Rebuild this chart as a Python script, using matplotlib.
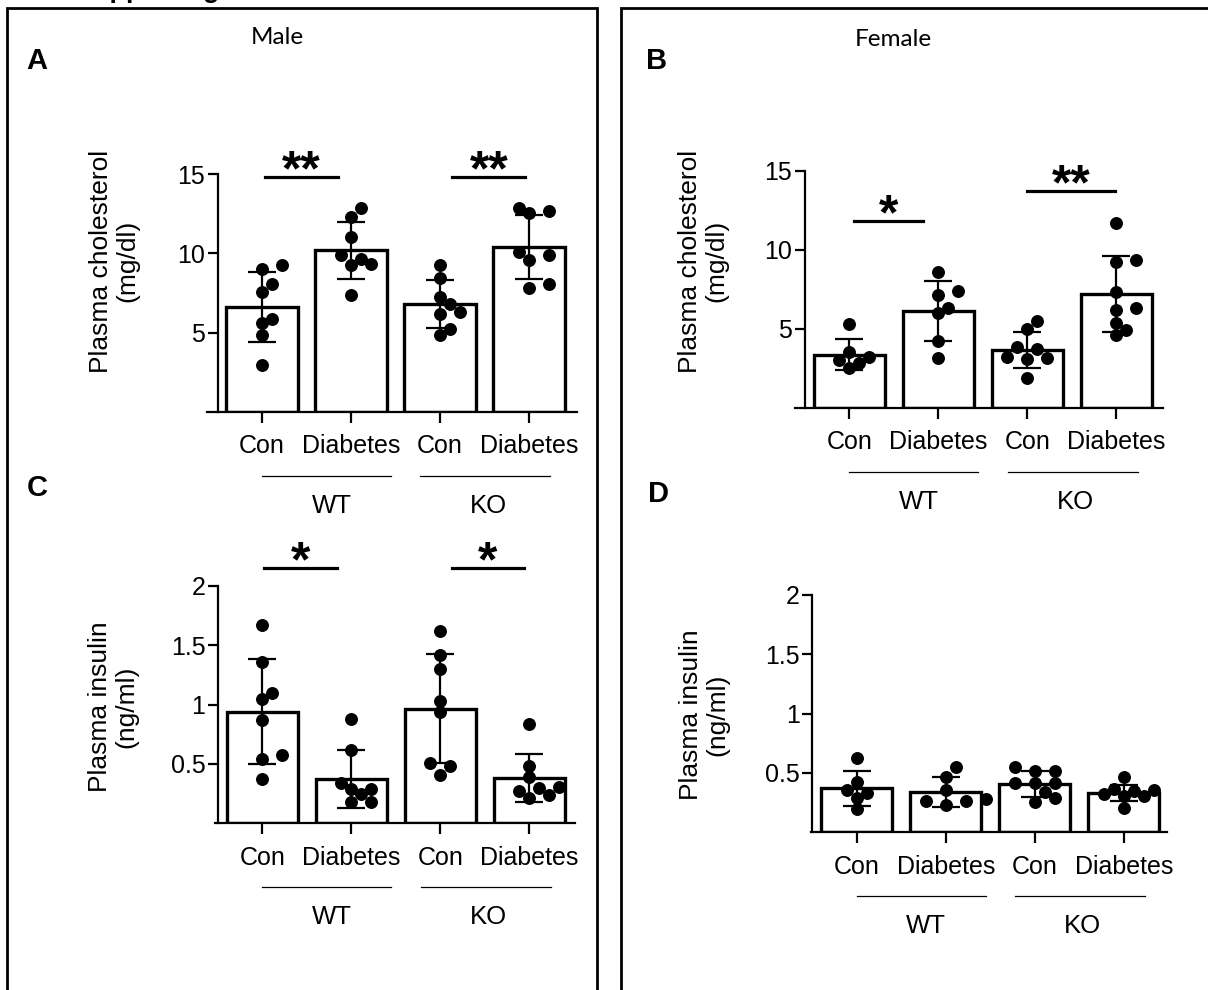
import numpy as np
import matplotlib.pyplot as plt
from matplotlib.patches import Rectangle

plt.rcParams['font.family'] = ['Liberation Sans', 'DejaVu Sans']

W, H = 1208, 990

groups = ['Con', 'Diabetes', 'Con', 'Diabetes']
genotypes = ['WT', 'KO']

# A - male plasma cholesterol (mg/dl)
chol_m_mean = [6.6, 10.2, 6.8, 10.4]
chol_m_sd = [2.2, 1.8, 1.5, 2.0]
chol_m_pts = [
    [9.0, 9.27, 8.06, 7.56, 5.87, 5.58, 4.88, 2.94],
    [12.83, 12.29, 11.0, 9.67, 9.88, 9.29, 9.33, 7.38],
    [9.29, 8.46, 7.25, 6.79, 6.33, 6.17, 5.21, 4.88],
    [12.67, 12.54, 12.88, 10.08, 9.88, 9.6, 7.83, 8.08],
]

# B - female plasma cholesterol (mg/dl)
chol_f_mean = [3.35, 6.1, 3.65, 7.2]
chol_f_sd = [0.98, 1.9, 1.13, 2.4]
chol_f_pts = [
    [5.28, 3.19, 3.02, 3.5, 2.85, 2.49],
    [8.61, 7.13, 7.41, 5.97, 6.33, 4.24, 3.12],
    [5.49, 4.96, 3.82, 3.7, 3.23, 3.08, 3.12, 1.86],
    [11.67, 9.35, 9.22, 7.3, 6.18, 6.33, 5.34, 4.92, 4.6],
]

# C - male plasma insulin (ng/ml)
ins_m_mean = [0.94, 0.375, 0.965, 0.38]
ins_m_sd = [0.44, 0.246, 0.46, 0.203]
ins_m_pts = [
    [1.669, 1.36, 1.044, 1.094, 0.87, 0.575, 0.541, 0.37],
    [0.878, 0.617, 0.337, 0.289, 0.247, 0.289, 0.182, 0.182],
    [1.619, 1.417, 1.296, 1.032, 0.934, 0.51, 0.482, 0.407],
    [0.836, 0.482, 0.387, 0.303, 0.3, 0.21, 0.238, 0.274],
]

# D - female plasma insulin (ng/ml)
ins_f_mean = [0.37, 0.34, 0.41, 0.33]
ins_f_sd = [0.145, 0.124, 0.11, 0.067]
ins_f_pts = [
    [0.623, 0.356, 0.426, 0.292, 0.334, 0.196],
    [0.553, 0.463, 0.356, 0.23, 0.278, 0.266, 0.266],
    [0.519, 0.548, 0.519, 0.413, 0.413, 0.413, 0.342, 0.258, 0.286],
    [0.463, 0.365, 0.32, 0.356, 0.348, 0.308, 0.308, 0.207],
]

# significance: (x start, x end, y, label)
sig_a = [(0.03, 0.85, 14.8, '**'), (2.14, 2.96, 14.8, '**')]
sig_b = [(0.05, 0.83, 11.8, '*'), (2.0, 2.98, 13.7, '**')]
sig_c = [(0.02, 0.84, 2.15, '*'), (2.13, 2.94, 2.15, '*')]
sig_d = []

STEP = 89.0  # px between bars


def swarm(ax, xc, vals, d=11.0, step=10.0):
    # spread dots sideways (in pixels) so they don't sit on top of each other
    tr = ax.transData
    inv = tr.inverted()
    x0 = tr.transform((xc, 0))[0]
    cands = [0]
    for j in range(1, 20):
        cands += [j, -j]
    placed = []
    xs = np.zeros(len(vals))
    for i in np.argsort(vals):
        py = tr.transform((xc, vals[i]))[1]
        for c in cands:
            px = x0 + c * step
            if all((px - qx) ** 2 + (py - qy) ** 2 >= d * d for qx, qy in placed):
                break
        placed.append((px, py))
        xs[i] = inv.transform((px, py))[0]
    return xs


def panel(fig, tick0, y0, ytop, xlim, ymax, means, sds, pts, yticks, ytl, sig):
    left = tick0 + xlim[0] * STEP
    width = (xlim[1] - xlim[0]) * STEP
    ax = fig.add_axes([left / W, 1 - y0 / H, width / W, (y0 - ytop) / H])
    ax.set_xlim(*xlim)
    ax.set_ylim(0, ymax)
    x = np.arange(len(groups))
    ax.bar(x, means, width=0.8, facecolor='white', edgecolor='black',
           linewidth=2.4, zorder=1)
    ax.errorbar(x, means, yerr=sds, fmt='none', ecolor='black',
                elinewidth=1.6, capsize=10, capthick=1.6, zorder=2)
    for i, v in enumerate(pts):
        xs = swarm(ax, i, v)
        ax.plot(xs, v, 'o', color='black', ms=8.3, zorder=3, clip_on=False)

    for s in ['top', 'right']:
        ax.spines[s].set_visible(False)
    ax.spines['left'].set_position(('data', -0.5))
    for s in ['left', 'bottom']:
        ax.spines[s].set_linewidth(1.6)
    ax.set_xticks(x)
    ax.set_xticklabels(groups)
    ax.set_yticks(yticks)
    ax.set_yticklabels(ytl)
    ax.tick_params(axis='x', length=8, width=1.6, pad=8, labelsize=18)
    ax.tick_params(axis='y', length=7, width=1.6, pad=2, labelsize=18)
    ax.patch.set_visible(False)

    # significance lines + stars
    for xa, xb, yy, lab in sig:
        ax.plot([xa, xb], [yy, yy], color='black', lw=2.3, clip_on=False)
        ax.annotate(lab, xy=((xa + xb) / 2, yy), xytext=(0, -6),
                    textcoords='offset points', ha='center', va='baseline',
                    fontsize=36, fontweight='bold', annotation_clip=False)

    # genotype lines under tick labels
    hpx = y0 - ytop
    tx = ax.get_xaxis_transform()
    ax.plot([0, 1.45], [-64 / hpx] * 2, color='black', lw=0.9,
            transform=tx, clip_on=False)
    ax.plot([1.78, 3.24], [-64 / hpx] * 2, color='black', lw=0.9,
            transform=tx, clip_on=False)
    ax.text(0.78, -94 / hpx, genotypes[0], transform=tx, ha='center',
            va='center', fontsize=18.5)
    ax.text(2.54, -94 / hpx, genotypes[1], transform=tx, ha='center',
            va='center', fontsize=18.5)
    return ax


fig = plt.figure(figsize=(W / 100, H / 100), dpi=100)

chol_ticks = [5, 10, 15]
chol_tl = ['5', '10', '15']
ins_ticks = [0.5, 1, 1.5, 2]
ins_tl = ['0.5', '1', '1.5', '2']

panel(fig, 262, 412, 174, (-0.62, 3.54), 15, chol_m_mean, chol_m_sd,
      chol_m_pts, chol_ticks, chol_tl, sig_a)
panel(fig, 849.3, 407.7, 170.7, (-0.61, 3.52), 15, chol_f_mean, chol_f_sd,
      chol_f_pts, chol_ticks, chol_tl, sig_b)
panel(fig, 262.3, 823.3, 585.7, (-0.53, 3.51), 2, ins_m_mean, ins_m_sd,
      ins_m_pts, ins_ticks, ins_tl, sig_c)
panel(fig, 856.7, 832.3, 595, (-0.51, 3.49), 2, ins_f_mean, ins_f_sd,
      ins_f_pts, ins_ticks, ins_tl, sig_d)

# y labels
def ylab(txt, x, y):
    fig.text(x / W, 1 - y / H, txt, rotation=90, ha='center', va='center',
             multialignment='center', fontsize=19, linespacing=1.1)

ylab('Plasma cholesterol\n(mg/dl)', 114, 261)
ylab('Plasma cholesterol\n(mg/dl)', 703, 261)
ylab('Plasma insulin\n(ng/ml)', 113, 707)
ylab('Plasma insulin\n(ng/ml)', 704, 715)

# panel letters and titles
for lab, x, y in [('A', 37, 61), ('B', 657, 61), ('C', 37, 488), ('D', 659, 494)]:
    fig.text(x / W, 1 - y / H, lab, ha='center', va='center',
             fontsize=21, fontweight='bold')
fig.text(277 / W, 1 - 37 / H, 'Male', ha='center', va='center',
         fontsize=17.5, family='Lato')
fig.text(893 / W, 1 - 40 / H, 'Female', ha='center', va='center',
         fontsize=17.5, family='Lato')

# header cut off at the top of the page
fig.text(75 / W, 1 + 3 / H, 'Supporting Information', ha='left',
         va='baseline', fontsize=19.5, fontweight='bold')

# boxes around the two columns
fig.add_artist(Rectangle((7 / W, -0.05), 590 / W, 1.05 - 8 / H,
                         transform=fig.transFigure, fill=False, lw=2,
                         edgecolor='black'))
fig.add_artist(Rectangle((621 / W, -0.05), 600 / W, 1.05 - 8 / H,
                         transform=fig.transFigure, fill=False, lw=2,
                         edgecolor='black'))

fig.savefig('out.png', dpi=100)
